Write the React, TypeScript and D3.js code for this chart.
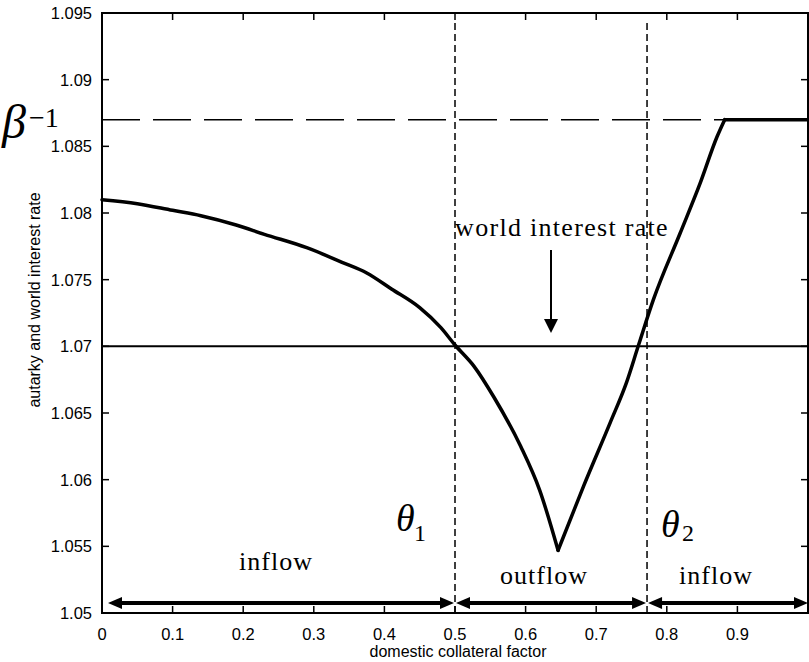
import React from 'react';
import * as d3 from 'd3';

// autarky interest rate vs domestic collateral factor
const curveX = [0, 0.05, 0.1, 0.14, 0.19, 0.23, 0.29, 0.34, 0.375, 0.41, 0.45, 0.48, 0.5,
  0.527, 0.555, 0.593, 0.62, 0.646, 0.682, 0.72, 0.743, 0.76, 0.781, 0.819, 0.847, 0.871, 0.882, 0.9, 1.0];
const curveY = [1.081, 1.0807, 1.0802, 1.0798, 1.0791, 1.0784, 1.0774, 1.0763, 1.0755, 1.0743, 1.0729, 1.0714, 1.0701,
  1.0685, 1.0662, 1.0625, 1.0592, 1.0547, 1.0595, 1.0643, 1.0673, 1.0701, 1.0735, 1.0785, 1.0822, 1.0857, 1.087, 1.087, 1.087];
// indices where the curve has a kink (V bottom, start of the flat part)
const kinks = [17, 26];

const worldRate = 1.07;
const betaInv = 1.087;
const thresholds = [0.5, 0.772];
const regionBounds = [0, 0.5, 0.772, 1.0];
const regionLabels = ['inflow', 'outflow', 'inflow'];

const xTickValues = [0, 0.1, 0.2, 0.3, 0.4, 0.5, 0.6, 0.7, 0.8, 0.9, 1.0];
const xTickLabels = ['0', '0.1', '0.2', '0.3', '0.4', '0.5', '0.6', '0.7', '0.8', '0.9', ''];
const yTickValues = [1.05, 1.055, 1.06, 1.065, 1.07, 1.075, 1.08, 1.085, 1.09, 1.095];
const yTickLabels = ['1.05', '1.055', '1.06', '1.065', '1.07', '1.075', '1.08', '1.085', '1.09', '1.095'];

const W = 809;
const H = 662;
const left = 102, right = 808, top = 13, bottom = 613;

const sans = '"Liberation Sans", Arial, Helvetica, sans-serif';
const serif = '"Liberation Serif", "Times New Roman", serif';

export default function App() {
  const x = d3.scaleLinear().domain([0, 1]).range([left, right]);
  const y = d3.scaleLinear().domain([1.05, 1.095]).range([bottom, top]);

  const pts: [number, number][] = curveX.map((v, i) => [v, curveY[i]]);
  const line = d3.line<[number, number]>()
    .x(d => x(d[0]))
    .y(d => y(d[1]))
    .curve(d3.curveMonotoneX);

  // smooth pieces joined at the kinks
  const cuts = [0, ...kinks, pts.length - 1];
  const pieces = cuts.slice(0, -1).map((c, i) => pts.slice(c, cuts[i + 1] + 1));

  const arrowY = bottom - 10;
  const headL = 14, headH = 6;

  // double headed arrows for the flow regions
  const arrows = regionLabels.map((_, i) => {
    const a = x(regionBounds[i]) + (i === 0 ? 6 : 1);
    const b = x(regionBounds[i + 1]) - (i === 2 ? 0 : 1);
    return { a, b };
  });

  const labelPos = [
    { x: 276, y: 570 },
    { x: 544, y: 584 },
    { x: 716, y: 584 },
  ];

  const arrowX = x(0.636);

  return (
    <svg width={W} height={H} style={{ position: 'absolute', left: 0, top: 0, background: '#fff' }}>
      {/* beta^-1 dashed level */}
      <line x1={left} x2={right} y1={y(betaInv)} y2={y(betaInv)}
        stroke="#000" strokeWidth={1.5} strokeDasharray="38 13" />

      {/* world interest rate */}
      <line x1={left} x2={right} y1={y(worldRate)} y2={y(worldRate)} stroke="#000" strokeWidth={2} />

      {/* thresholds */}
      {thresholds.map((t, i) => (
        <line key={i} x1={x(t)} x2={x(t)} y1={top + 10} y2={bottom}
          stroke="#000" strokeWidth={1.5} strokeDasharray="7 4" />
      ))}

      {/* autarky rate curve */}
      {pieces.map((p, i) => (
        <path key={'c' + i} d={line(p) || ''} fill="none" stroke="#000" strokeWidth={3.5}
          strokeLinejoin="round" strokeLinecap="round" />
      ))}

      {/* axes box */}
      <rect x={left} y={top} width={right - left} height={bottom - top} fill="none" stroke="#000" strokeWidth={2} />
      {xTickValues.map((v, i) => (
        <g key={'x' + i}>
          <line x1={x(v)} x2={x(v)} y1={bottom} y2={bottom - 7} stroke="#000" strokeWidth={1.5} />
          <line x1={x(v)} x2={x(v)} y1={top} y2={top + 7} stroke="#000" strokeWidth={1.5} />
          <text x={x(v)} y={640} textAnchor="middle" fontFamily={sans} fontSize={16.5}>{xTickLabels[i]}</text>
        </g>
      ))}
      {yTickValues.map((v, i) => (
        <g key={'y' + i}>
          <line x1={left} x2={left + 7} y1={y(v)} y2={y(v)} stroke="#000" strokeWidth={1.5} />
          <line x1={right} x2={right - 7} y1={y(v)} y2={y(v)} stroke="#000" strokeWidth={1.5} />
          <text x={92} y={y(v) + 6} textAnchor="end" fontFamily={sans} fontSize={16.5}>{yTickLabels[i]}</text>
        </g>
      ))}

      {/* axis titles */}
      <text x={458} y={657} textAnchor="middle" fontFamily={sans} fontSize={16}>domestic collateral factor</text>
      <text transform="translate(40,300) rotate(-90)" textAnchor="middle" fontFamily={sans} fontSize={16}>
        autarky and world interest rate
      </text>

      {/* flow arrows */}
      {arrows.map((d, i) => (
        <g key={'a' + i}>
          <line x1={d.a + headL - 2} x2={d.b - headL + 2} y1={arrowY} y2={arrowY} stroke="#000" strokeWidth={4} />
          <path d={`M${d.a},${arrowY} L${d.a + headL},${arrowY - headH} L${d.a + headL},${arrowY + headH} Z`} fill="#000" />
          <path d={`M${d.b},${arrowY} L${d.b - headL},${arrowY - headH} L${d.b - headL},${arrowY + headH} Z`} fill="#000" />
        </g>
      ))}
      {regionLabels.map((t, i) => (
        <text key={'r' + i} x={labelPos[i].x} y={labelPos[i].y} textAnchor="middle"
          fontFamily={serif} fontSize={26} letterSpacing={1}>{t}</text>
      ))}

      {/* world interest rate annotation */}
      <text x={562} y={236} textAnchor="middle" fontFamily={serif} fontSize={26} letterSpacing={1.3}>world interest rate</text>
      <line x1={arrowX} x2={arrowX} y1={250} y2={322} stroke="#000" strokeWidth={2} />
      <path d={`M${arrowX - 7},${319} L${arrowX + 7},${319} L${arrowX},${333} Z`} fill="#000" />

      {/* greek labels */}
      <text x={2} y={138} fontFamily={serif} fontStyle="italic" fontSize={48}>β</text>
      <text x={29} y={127} fontFamily={serif} fontSize={28}>−1</text>
      <text x={396} y={531} fontFamily={serif} fontStyle="italic" fontSize={38}>θ</text>
      <text x={414} y={541} fontFamily={serif} fontSize={24}>1</text>
      <text x={661} y={537} fontFamily={serif} fontStyle="italic" fontSize={38}>θ</text>
      <text x={682} y={541} fontFamily={serif} fontSize={24}>2</text>
    </svg>
  );
}
